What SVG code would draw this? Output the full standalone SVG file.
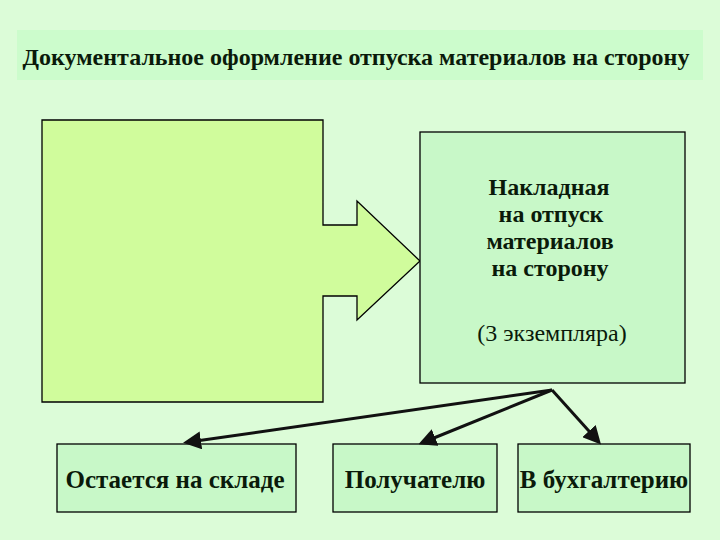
<svg xmlns="http://www.w3.org/2000/svg" width="720" height="540" viewBox="0 0 720 540">
<style>
.bold{font-family:"Liberation Serif","Times New Roman",serif;font-weight:bold;fill:#0a1a0a}
.norm{font-family:"Liberation Serif","Times New Roman",serif;fill:#0a1a0a}
.box{fill:#c8f8c8;stroke:#000;stroke-width:1.3}
.conn{stroke:#111;stroke-width:3;fill:none}
</style>
<defs>
<marker id="ah" markerWidth="6" markerHeight="6" refX="4" refY="3" orient="auto" markerUnits="strokeWidth">
<path d="M0,0 L6,3 L0,6 z" fill="#111"/>
</marker>
</defs>
<rect width="720" height="540" fill="#dcfcd8"/>
<g id="title">
<rect x="17" y="30" width="686" height="50" fill="#ccfccc"/>
<text class="bold" x="356" y="65" font-size="24" text-anchor="middle">Документальное оформление отпуска материалов на сторону</text>
</g>
<g id="source">
<path d="M42,120 H323 V225 H357 V201 L420,261 L357,320 V296 H323 V402 H42 Z" fill="#d0fc9c" stroke="#000" stroke-width="1.3"/>
</g>
<g id="invoice">
<rect class="box" x="420" y="132" width="265" height="251"/>
<text class="bold" font-size="24" text-anchor="middle">
<tspan x="552" y="195">Накладная</tspan>
<tspan x="554" y="222">на отпуск</tspan>
<tspan x="553" y="249">материалов</tspan>
<tspan x="550" y="276">на сторону</tspan>
</text>
<text class="norm" x="552" y="341" font-size="24" text-anchor="middle">(3 экземпляра)</text>
</g>
<g id="warehouse">
<rect class="box" x="57" y="444" width="239" height="68"/>
<text class="bold" x="175" y="488" font-size="25" text-anchor="middle">Остается на складе</text>
</g>
<g id="recipient">
<rect class="box" x="333" y="444" width="164" height="68"/>
<text class="bold" x="415" y="488" font-size="25" text-anchor="middle">Получателю</text>
</g>
<g id="accounting">
<rect class="box" x="518" y="444" width="172" height="68"/>
<text class="bold" x="604" y="488" font-size="25" text-anchor="middle">В бухгалтерию</text>
</g>
<g id="connectors">
<line class="conn" x1="552" y1="390" x2="189" y2="442" marker-end="url(#ah)"/>
<line class="conn" x1="552" y1="390" x2="424" y2="442" marker-end="url(#ah)"/>
<line class="conn" x1="552" y1="390" x2="597" y2="440" marker-end="url(#ah)"/>
</g>
</svg>
